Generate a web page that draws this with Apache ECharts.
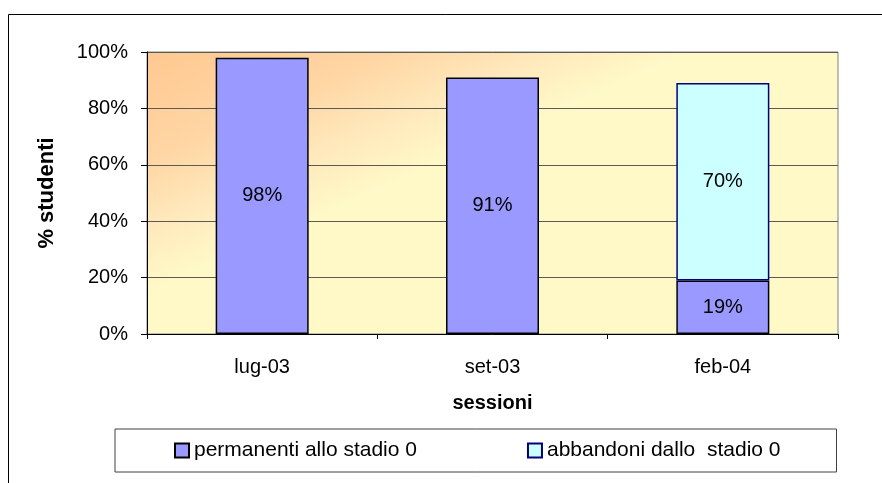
<!DOCTYPE html>
<html>
<head>
<meta charset="utf-8">
<script src="https://cdn.jsdelivr.net/npm/echarts@6/dist/echarts.min.js"></script>
<style>
  html, body { margin: 0; padding: 0; background: #fff; }
  #chart { width: 882px; height: 483px; }
</style>
</head>
<body>
<div id="chart"></div>
<script>
// sessioni d'esame
const sessioni = ['lug-03', 'set-03', 'feb-04']
// % studenti
const permanenti = [98, 91, 19]
const abbandoni = ['-', '-', 70]
const yTicks = [0, 20, 40, 60, 80, 100]

const font = 'Liberation Sans, Arial, sans-serif'

const chart = echarts.init(document.getElementById('chart'))

chart.setOption({
  animation: false,
  backgroundColor: '#fff',
  textStyle: { fontFamily: font },
  graphic: [{ // cornice esterna
    type: 'rect',
    shape: { x: 8.5, y: 14.5, width: 900, height: 500 },
    style: { fill: 'none', stroke: '#000', lineWidth: 1 },
    z: -10
  }],
  grid: {
    left: 147,
    right: 44,
    top: 52,
    bottom: 149,
    show: true,
    borderColor: '#808080',
    borderWidth: 1,
    backgroundColor: new echarts.graphic.LinearGradient(0, 0, 0.13, 0.72, [
      { offset: 0, color: '#FFC890' },
      { offset: 0.45, color: '#FFD6A4' },
      { offset: 0.75, color: '#FFEABD' },
      { offset: 1, color: '#FFF9C8' }
    ])
  },
  legend: {
    left: 115,
    top: 429,
    padding: [11, 56, 11, 59],
    itemGap: 110,
    itemWidth: 14,
    itemHeight: 14,
    icon: 'rect',
    borderColor: '#404040',
    borderWidth: 1,
    textStyle: { fontSize: 21, color: '#000', fontFamily: font },
    data: ['permanenti allo stadio 0', 'abbandoni dallo  stadio 0']
  },
  xAxis: {
    type: 'category',
    data: sessioni,
    name: 'sessioni',
    nameLocation: 'middle',
    nameGap: 59,
    nameTextStyle: { fontSize: 20, fontWeight: 'bold', color: '#000', fontFamily: font },
    axisLine: { lineStyle: { color: '#000', width: 1 } },
    axisTick: { show: true, length: 5, lineStyle: { color: '#000' } },
    axisLabel: { fontSize: 20, color: '#000', margin: 23, fontFamily: font }
  },
  yAxis: {
    type: 'value',
    min: 0,
    max: 100,
    interval: 20,
    name: '% studenti',
    nameLocation: 'middle',
    nameRotate: 90,
    nameGap: 89,
    nameTextStyle: { fontSize: 22, fontWeight: 'bold', color: '#000', fontFamily: font },
    axisLine: { show: true, lineStyle: { color: '#000', width: 1 } },
    axisTick: { show: true, length: 6, lineStyle: { color: '#000' } },
    axisLabel: {
      fontSize: 20,
      color: '#000',
      margin: 19,
      fontFamily: font,
      formatter: function(v) { return yTicks.indexOf(v) >= 0 ? v + '%' : '' }
    },
    splitLine: { lineStyle: { color: '#5c5a52', width: 1 } }
  },
  series: [
    {
      name: 'permanenti allo stadio 0',
      type: 'bar',
      stack: 'tot',
      barWidth: 93,
      data: permanenti,
      itemStyle: { color: '#9999FF', borderColor: '#000', borderWidth: 1.5 },
      label: {
        show: true,
        position: 'inside',
        formatter: '{c}%',
        fontSize: 20,
        color: '#000',
        fontFamily: font
      }
    },
    {
      name: 'abbandoni dallo  stadio 0',
      type: 'bar',
      stack: 'tot',
      barWidth: 93,
      data: abbandoni,
      itemStyle: { color: '#CCFFFF', borderColor: '#000080', borderWidth: 1.5 },
      label: {
        show: true,
        position: 'inside',
        formatter: '{c}%',
        fontSize: 20,
        color: '#000',
        fontFamily: font
      }
    }
  ]
})
</script>
</body>
</html>
